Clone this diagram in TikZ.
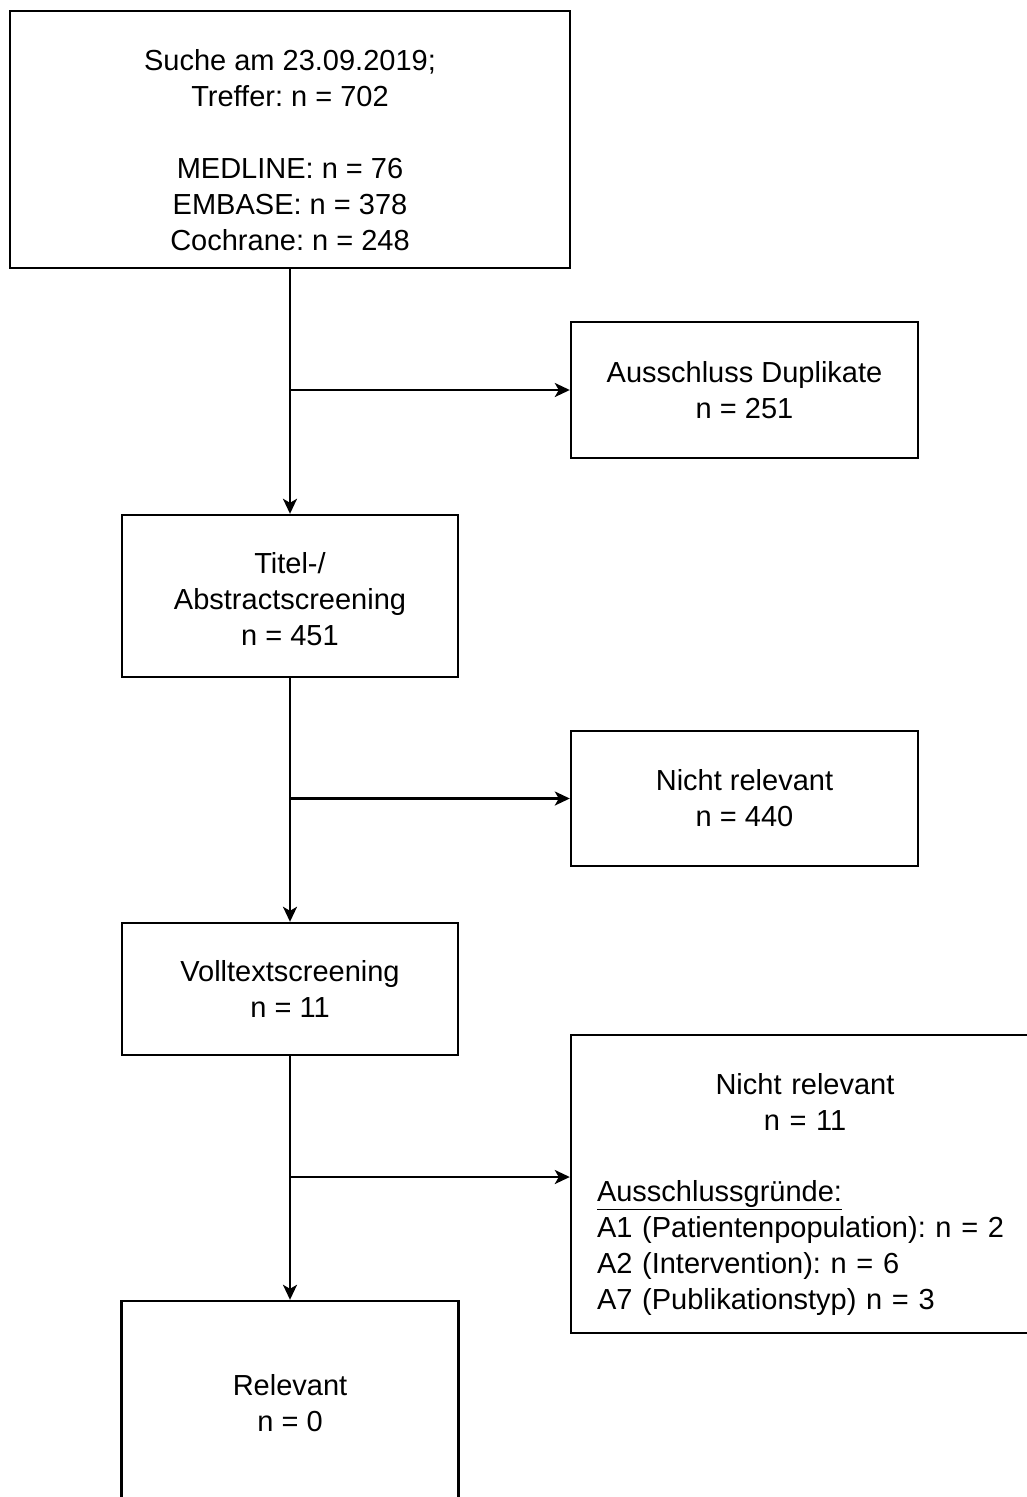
\documentclass[tikz,border=0pt]{standalone}
\usepackage{fontspec}
\setmainfont{Liberation Sans}
\usetikzlibrary{arrows.meta}
\frenchspacing

\begin{document}
\begin{tikzpicture}[x=1pt, y=-1pt,
  box/.style={draw, line width=2.4pt, align=center, inner sep=0pt, font=\fontsize{29}{36}\selectfont\frenchspacing},
  flow/.style={line width=2.4pt, -{Stealth[length=15pt, width=14pt, inset=4pt]}}]
\useasboundingbox (0,0) rectangle (1027,1497);
\clip (0,0) rectangle (1027,1497);
\node [box, minimum width=560, minimum height=257] (search) at (290,139.5)
  {\rule{0pt}{42pt}Suche am 23.09.2019;\\Treffer: n = 702\\[36pt]MEDLINE: n = 76\\EMBASE: n = 378\\Cochrane: n = 248};
\node [box, minimum width=347, minimum height=136] (dup) at (744.5,390)
  {Ausschluss Duplikate\\n = 251};
\node [box, minimum width=336, minimum height=162] (titel) at (290,596)
  {\rule{0pt}{27pt}Titel-/\\Abstractscreening\\n = 451};
\node [box, minimum width=347, minimum height=135] (irrel1) at (744.5,798.5)
  {Nicht relevant\\n = 440};
\node [box, minimum width=336, minimum height=132] (volltext) at (290,989)
  {Volltextscreening\\n = 11};
\node [box, minimum width=468, minimum height=298, text width=416pt, align=left] (irrel2) at (805,1184)
  {{\centering\rule{0pt}{42pt}Nicht relevant\\n = 11\par}\vspace{35pt}\raggedright
   \underline{Ausschlussgründe:}\\A1 (Patientenpopulation): n = 2\\A2 (Intervention): n = 6\\A7 (Publikationstyp) n = 3};
\node [box, minimum width=337, minimum height=205] (relevant) at (290,1403.5)
  {Relevant\\n = 0};
\coordinate (split3) at (290,1177);
\draw [flow] (search.south) -- (titel.north);
\draw [flow] (search.south |- dup.west) -- (dup.west);
\draw [flow] (titel.south) -- (volltext.north);
\draw [flow] (titel.south |- irrel1.west) -- (irrel1.west);
\draw [flow] (volltext.south) -- (relevant.north);
\draw [flow] (split3) -- (split3 -| irrel2.west);
\end{tikzpicture}
\end{document}
